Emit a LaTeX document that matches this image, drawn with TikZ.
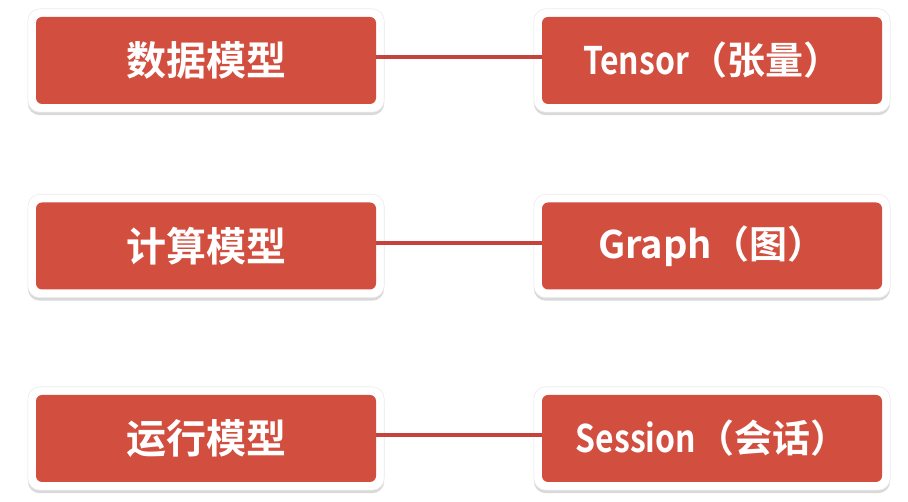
\documentclass[tikz,border=0pt]{standalone}
\usepackage{fontspec}
\newfontfamily\cjk{Noto Sans CJK SC}[BoldFont={Noto Sans CJK SC Bold}]
\usetikzlibrary{shadows,fit,backgrounds}
\definecolor{boxred}{RGB}{210,79,64}
\definecolor{linkred}{RGB}{198,66,60}
\tikzset{
  box/.style={fill=boxred, rounded corners=6pt, minimum width=340pt, minimum height=87pt,
    inner sep=0pt, text=white, font=\cjk\bfseries\fontsize{40}{44}\selectfont},
  rbox/.style={box, font=\cjk\bfseries\fontsize{38}{42}\selectfont},
  frame/.style={fill=white, draw=black!8, line width=0.6pt, rounded corners=12pt, inner sep=8pt,
    drop shadow={shadow xshift=0pt, shadow yshift=-3pt, opacity=0.25, fill=black!60}},
  link/.style={draw=linkred, line width=4pt},
}
\begin{document}
\begin{tikzpicture}[x=1pt,y=1pt]
\useasboundingbox (0,0) rectangle (908,502);
\node[box] (l1) at (206,441.5) {数据模型};
\node[box] (l2) at (206,256) {计算模型};
\node[box] (l3) at (206,63.5) {运行模型};
\node[rbox] (r1) at (712,441.5) {\scalebox{0.84}[1]{Tensor}（张量）};
\node[rbox] (r2) at (712,256) {Graph（图）};
\node[rbox] (r3) at (712,63.5) {\scalebox{0.84}[1]{Session}（会话）};
\begin{scope}[on background layer]
  \foreach \n in {l1,l2,l3,r1,r2,r3} \node[frame, fit=(\n)] (f\n) {};
\end{scope}
\foreach \i in {1,2,3}
  \draw[link] ([yshift=3pt]l\i.east) -- ([yshift=3pt]r\i.west);
\end{tikzpicture}
\end{document}
